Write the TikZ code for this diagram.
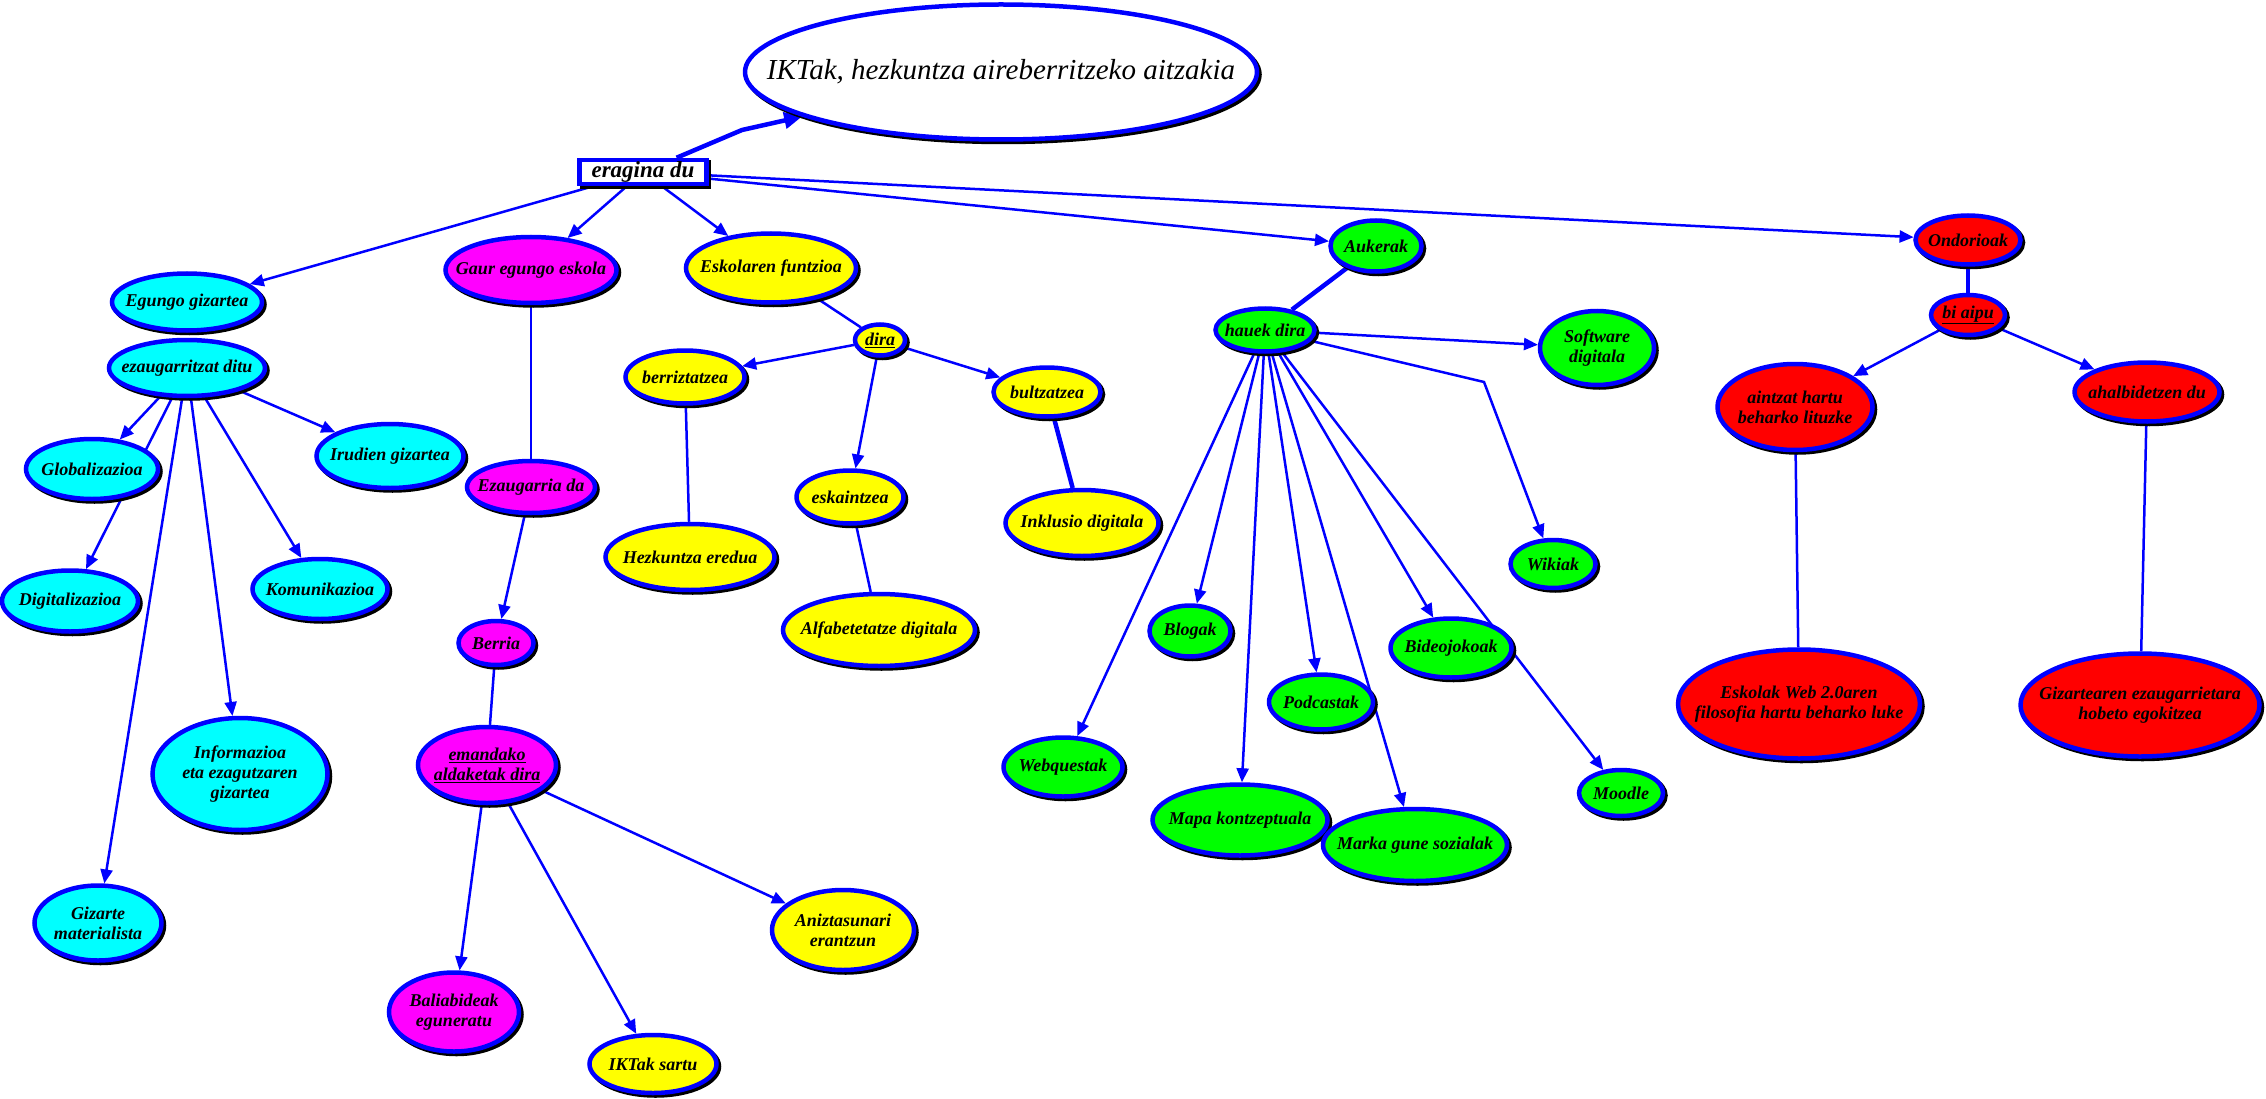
\documentclass[tikz,border=0pt]{standalone}
\usepackage{fontspec}
\setmainfont{Liberation Serif}
\usepackage{tikz}
\usetikzlibrary{arrows.meta, positioning, shapes.geometric, shadows, backgrounds}

\definecolor{lineblue}{RGB}{0,0,255}
\definecolor{cyanfill}{RGB}{0,255,255}
\definecolor{magfill}{RGB}{255,0,255}
\definecolor{yelfill}{RGB}{255,255,0}
\definecolor{grnfill}{RGB}{0,255,0}
\definecolor{redfill}{RGB}{255,0,0}

\begin{document}
\begin{tikzpicture}[x=1pt, y=-1pt,
	shad/.style={drop shadow={shadow xshift=2.5pt, shadow yshift=-2.5pt, fill=black, draw=black, line width=4.5pt, opacity=1}},
	bub/.style={draw=lineblue, line width=4.5pt, ellipse, inner xsep=-20pt, inner ysep=0pt, align=center, shad,
		font=\fontsize{18}{20}\selectfont\bfseries\itshape},
	cyanbub/.style={bub, fill=cyanfill},
	magbub/.style={bub, fill=magfill},
	yelbub/.style={bub, fill=yelfill},
	grnbub/.style={bub, fill=grnfill},
	redbub/.style={bub, fill=redfill},
	conn/.style={lineblue, line width=2.5pt},
	arr/.style={conn, -{Triangle[length=14pt, width=12pt]}}]
	
	\useasboundingbox (0,0) rectangle (2266,1099);
	
	% Nodes
	\node[draw=lineblue, line width=4.5pt, fill=white, ellipse, shad, minimum width=512pt, minimum height=135pt, inner xsep=-60pt,
		font=\fontsize{29}{34}\selectfont\itshape] (title) at (1001,72) {IKTak, hezkuntza aireberritzeko aitzakia};
	\node[draw=lineblue, line width=4.5pt, fill=white, rectangle, shad, minimum width=127pt, minimum height=24pt, inner sep=1pt,
		font=\fontsize{23}{26}\selectfont\bfseries\itshape] (era) at (643,172) {eragina du};
	
	% gizartea
	\node[cyanbub, minimum width=150pt, minimum height=57pt] (egun) at (187,302) {Egungo gizartea};
	\node[cyanbub, minimum width=156pt, minimum height=56pt, below=5pt of egun] (ezaug) {ezaugarritzat ditu};
	\node[cyanbub, minimum width=132pt, minimum height=60pt] (glob) at (92,469) {Globalizazioa};
	\node[cyanbub, minimum width=147pt, minimum height=64pt] (irud) at (390,456) {Irudien gizartea};
	\node[cyanbub, minimum width=136pt, minimum height=61pt] (digi) at (70,601) {Digitalizazioa};
	\node[cyanbub, minimum width=135pt, minimum height=60pt] (komu) at (320,589) {Komunikazioa};
	\node[cyanbub, minimum width=175pt, minimum height=112pt] (info) at (240,774) {Informazioa\\eta ezagutzaren\\gizartea};
	\node[cyanbub, minimum width=127pt, minimum height=75pt] (mate) at (98,923) {Gizarte\\materialista};
	
	% eskola
	\node[magbub, minimum width=171pt, minimum height=66pt] (gaur) at (531,270) {Gaur egungo eskola};
	\node[magbub, minimum width=128pt, minimum height=52pt] (ezda) at (531,487) {Ezaugarria da};
	\node[magbub, minimum width=75pt, minimum height=44pt] (berr) at (496,643) {Berria};
	\node[magbub, minimum width=138pt, minimum height=76pt] (alda) at (487,765) {\underline{emandako}\\\underline{aldaketak dira}};
	\node[magbub, minimum width=130pt, minimum height=79pt] (bali) at (454,1012) {Baliabideak\\eguneratu};
	\node[yelbub, minimum width=127pt, minimum height=58pt] (sart) at (653,1064) {IKTak sartu};
	\node[yelbub, minimum width=142pt, minimum height=80pt] (aniz) at (843,930) {Aniztasunari\\erantzun};
	
	% funtzioa
	\node[yelbub, minimum width=170pt, minimum height=69pt] (esko) at (771,268) {Eskolaren funtzioa};
	\node[yelbub, minimum width=50pt, minimum height=31pt] (dira) at (880,340) {\underline{dira}};
	\node[yelbub, minimum width=119pt, minimum height=53pt] (berz) at (685,377) {berriztatzea};
	\node[yelbub, minimum width=107pt, minimum height=53pt] (eska) at (850,497) {eskaintzea};
	\node[yelbub, minimum width=107pt, minimum height=49pt] (bult) at (1047,392) {bultzatzea};
	\node[yelbub, minimum width=169pt, minimum height=66pt] (hezk) at (690,557) {Hezkuntza eredua};
	\node[yelbub, minimum width=192pt, minimum height=72pt] (alfa) at (879,630) {Alfabetetatze digitala};
	\node[yelbub, minimum width=153pt, minimum height=66pt] (inkl) at (1082,523) {Inklusio digitala};
	
	% aukerak
	\node[grnbub, minimum width=91pt, minimum height=51pt] (auke) at (1376,246) {Aukerak};
	\node[grnbub, minimum width=99pt, minimum height=43pt] (hauk) at (1265,330) {hauek dira};
	\node[grnbub, minimum width=114pt, minimum height=74pt] (soft) at (1597,348) {Software\\digitala};
	\node[grnbub, minimum width=85pt, minimum height=48pt] (wiki) at (1553,564) {Wikiak};
	\node[grnbub, minimum width=81pt, minimum height=51pt] (blog) at (1190,631) {Blogak};
	\node[grnbub, minimum width=121pt, minimum height=59pt] (bide) at (1451,648) {Bideojokoak};
	\node[grnbub, minimum width=104pt, minimum height=55pt] (podc) at (1321,702) {Podcastak};
	\node[grnbub, minimum width=119pt, minimum height=59pt] (webq) at (1063,767) {Webquestak};
	\node[grnbub, minimum width=175pt, minimum height=71pt] (mapa) at (1240,820) {Mapa kontzeptuala};
	\node[grnbub, minimum width=184pt, minimum height=72pt] (mark) at (1415,845) {Marka gune sozialak};
	\node[grnbub, minimum width=84pt, minimum height=46pt] (mood) at (1621,793) {Moodle};
	
	% ondorioak
	\node[redbub, minimum width=105pt, minimum height=49pt] (ondo) at (1968,240) {Ondorioak};
	\node[redbub, minimum width=74pt, minimum height=40pt, below=26pt of ondo] (biai) {\underline{bi aipu}};
	\node[redbub, minimum width=155pt, minimum height=86pt] (aint) at (1795,407) {aintzat hartu\\beharko lituzke};
	\node[redbub, minimum width=145pt, minimum height=59pt] (ahal) at (2147,392) {ahalbidetzen du};
	\node[redbub, minimum width=242pt, minimum height=109pt] (eskw) at (1799,704) {Eskolak Web 2.0aren\\filosofia hartu beharko luke};
	\node[redbub, minimum width=239pt, minimum height=103pt] (giza) at (2140,705) {Gizartearen ezaugarrietara\\hobeto egokitzea};
	
	\coordinate (tbend) at (742,130);
	\coordinate (wbend) at (1484,382);
	
	% Arrows
	\begin{scope}[on background layer]
		\draw[conn, line width=4.5pt, -{Triangle[length=18pt, width=16pt]}] (era) -- (tbend) -- (title);
		\foreach \t in {egun, gaur, esko, auke, ondo}
			\draw[arr] (era) -- (\t);
		\foreach \t in {glob, digi, irud, komu, info, mate}
			\draw[arr] (ezaug) -- (\t);
		\draw[conn] (gaur) -- (ezda);
		\draw[arr] (ezda) -- (berr);
		\draw[conn] (berr) -- (alda);
		\foreach \t in {bali, sart, aniz}
			\draw[arr] (alda) -- (\t);
		\draw[conn] (esko) -- (dira);
		\foreach \t in {berz, eska, bult}
			\draw[arr] (dira) -- (\t);
		\draw[conn] (berz) -- (hezk);
		\draw[conn] (eska) -- (alfa);
		\draw[conn, line width=4.5pt] (bult) -- (inkl);
		\draw[conn, line width=4.5pt] (auke) -- (hauk);
		\foreach \t in {soft, blog, webq, mapa, podc, mark, bide, mood}
			\draw[arr] (hauk) -- (\t);
		\draw[arr] (hauk) -- (wbend) -- (wiki);
		\draw[conn, line width=4.5pt] (ondo) -- (biai);
		\draw[arr] (biai) -- (aint);
		\draw[arr] (biai) -- (ahal);
		\draw[conn] (aint) -- (eskw);
		\draw[conn] (ahal) -- (giza);
	\end{scope}
	
\end{tikzpicture}
\end{document}
